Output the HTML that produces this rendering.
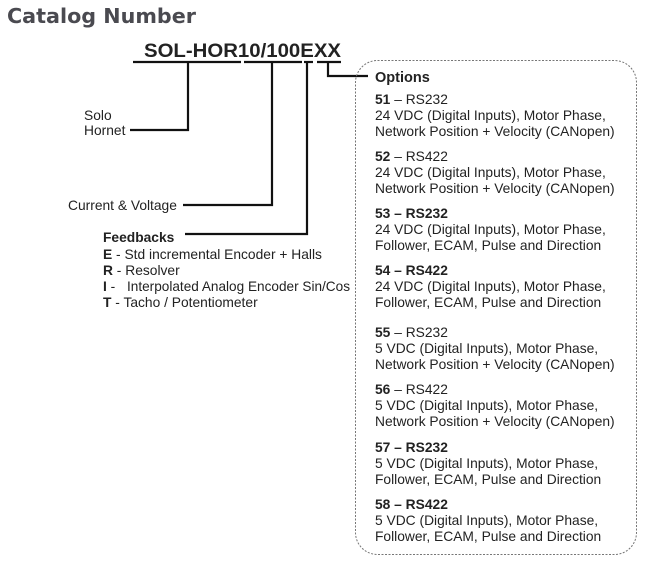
<!DOCTYPE html>
<html><head><meta charset="utf-8"><style>
html,body{margin:0;padding:0;background:#fff;width:650px;height:562px;overflow:hidden}
svg text{font-family:"Liberation Sans",Arial,sans-serif;fill:#222}
</style></head><body>
<svg width="650" height="562" viewBox="0 0 650 562" xmlns="http://www.w3.org/2000/svg">
<text x="7" y="23" style="font-family:'DejaVu Sans',sans-serif;font-weight:bold;font-size:20.7px;fill:#4a4a50">Catalog Number</text>
<text x="144" y="57" font-size="19" font-weight="bold" fill="#111" textLength="197" lengthAdjust="spacingAndGlyphs">SOL-HOR10/100EXX</text>
<g stroke="#111" stroke-width="2.2" fill="none">
<line x1="133" y1="62" x2="241" y2="62"/>
<line x1="244" y1="62" x2="302" y2="62"/>
<line x1="304" y1="62" x2="313" y2="62"/>
<line x1="317" y1="62" x2="341" y2="62"/>
<polyline points="188,62 188,130 130,130"/>
<polyline points="272,62 272,205 183,205"/>
<polyline points="307,62 307,234 185,234"/>
<polyline points="328,62 328,76 368,76"/>
</g>
<rect x="355.5" y="60.5" width="281" height="494" rx="22" fill="none" stroke="#777" stroke-width="1" stroke-dasharray="2,1.5"/>
<g font-size="13.8">
<text x="84" y="120">Solo</text>
<text x="84" y="135">Hornet</text>
<text x="68" y="210">Current &amp; Voltage</text>
<text x="103" y="242" font-weight="bold" fill="#111">Feedbacks</text>
<text x="103" y="259"><tspan font-weight="bold">E</tspan> - Std incremental Encoder + Halls</text>
<text x="103" y="275"><tspan font-weight="bold">R</tspan> - Resolver</text>
<text x="103" y="291"><tspan font-weight="bold">I</tspan> -</text>
<text x="127" y="291" textLength="223" lengthAdjust="spacingAndGlyphs">Interpolated Analog Encoder Sin/Cos</text>
<text x="103" y="307"><tspan font-weight="bold">T</tspan> - Tacho / Potentiometer</text>

<text x="375" y="82" font-weight="bold" font-size="14.5" fill="#111">Options</text>

<text x="375" y="104"><tspan font-weight="bold">51</tspan> – RS232</text>
<text x="375" y="120">24 VDC (Digital Inputs), Motor Phase,</text>
<text x="375" y="136">Network Position + Velocity (CANopen)</text>

<text x="375" y="161"><tspan font-weight="bold">52</tspan> – RS422</text>
<text x="375" y="177">24 VDC (Digital Inputs), Motor Phase,</text>
<text x="375" y="193">Network Position + Velocity (CANopen)</text>

<text x="375" y="218" font-weight="bold">53 – RS232</text>
<text x="375" y="234">24 VDC (Digital Inputs), Motor Phase,</text>
<text x="375" y="250">Follower, ECAM, Pulse and Direction</text>

<text x="375" y="275" font-weight="bold">54 – RS422</text>
<text x="375" y="291">24 VDC (Digital Inputs), Motor Phase,</text>
<text x="375" y="307">Follower, ECAM, Pulse and Direction</text>

<text x="375" y="337"><tspan font-weight="bold">55</tspan> – RS232</text>
<text x="375" y="353">5 VDC (Digital Inputs), Motor Phase,</text>
<text x="375" y="369">Network Position + Velocity (CANopen)</text>

<text x="375" y="394"><tspan font-weight="bold">56</tspan> – RS422</text>
<text x="375" y="410">5 VDC (Digital Inputs), Motor Phase,</text>
<text x="375" y="426">Network Position + Velocity (CANopen)</text>

<text x="375" y="452" font-weight="bold">57 – RS232</text>
<text x="375" y="468">5 VDC (Digital Inputs), Motor Phase,</text>
<text x="375" y="484">Follower, ECAM, Pulse and Direction</text>

<text x="375" y="509" font-weight="bold">58 – RS422</text>
<text x="375" y="525">5 VDC (Digital Inputs), Motor Phase,</text>
<text x="375" y="541">Follower, ECAM, Pulse and Direction</text>
</g>
</svg>
</body></html>
